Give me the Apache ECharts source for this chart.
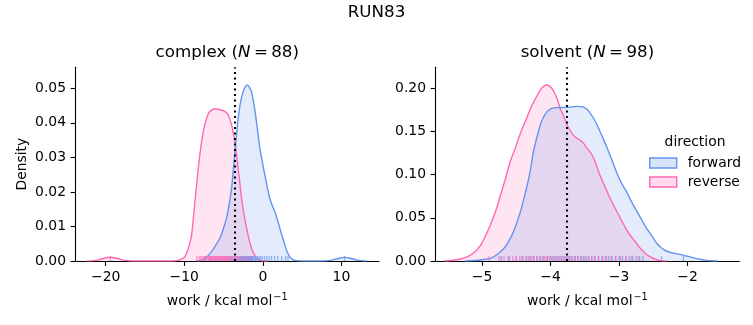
<!DOCTYPE html>
<html><head><meta charset="utf-8">
<script src="https://cdn.jsdelivr.net/npm/echarts@6/dist/echarts.min.js"></script>
<style>html,body{margin:0;padding:0;background:#fff}#c{width:753px;height:325px}</style>
</head><body><div id="c"></div>
<script>
// ---------- data ----------
const complexReverseX = [-22.4,-21.5,-20.8,-20.2,-19.4,-18.6,-18.0,-17.3,-16.5,-14,-12,-11.2,-10.77,-10.3,-9.91,-9.5,-9.07,-8.64,-8.22,-7.80,-7.48,-7.16,-6.84,-6.52,-6.2,-5.89,-5.45,-5.04,-4.7,-4.41,-4.2,-3.98,-3.77,-3.56,-3.35,-3.14,-2.92,-2.71,-2.4,-2.07,-1.75,-1.44,-1.1,-0.80,-0.4,0.0,0.6];
const complexReverseY = [0,0.0001,0.0004,0.0008,0.00107,0.0008,0.0004,0.0001,0,0,0,0.00005,0.0002,0.0006,0.0013,0.0035,0.0075,0.0172,0.0268,0.0345,0.0385,0.0413,0.0430,0.0437,0.0440,0.0440,0.0438,0.0435,0.0431,0.0423,0.0410,0.0394,0.0372,0.0345,0.0310,0.0268,0.0224,0.0181,0.0135,0.0095,0.0062,0.0037,0.0019,0.0008,0.0002,0.00005,0];
const complexForwardX = [-8.5,-7.8,-7.2,-6.52,-6.0,-5.47,-5.05,-4.62,-4.3,-3.98,-3.77,-3.56,-3.35,-3.14,-2.9,-2.63,-2.3,-1.99,-1.7,-1.44,-1.2,-0.93,-0.65,-0.38,-0.05,0.25,0.57,0.89,1.21,1.53,1.85,2.16,2.48,2.80,3.1,3.43,3.8,4.28,5.0,7.5,8.3,9.0,9.7,10.4,11.1,11.8,12.5,13.2];
const complexForwardY = [0,0.0002,0.0010,0.0027,0.0045,0.0066,0.0092,0.0124,0.0163,0.0210,0.0262,0.0317,0.0367,0.0413,0.0452,0.0481,0.0502,0.0510,0.0503,0.0490,0.0462,0.0423,0.0375,0.0326,0.0285,0.0249,0.0213,0.0181,0.0160,0.0143,0.0119,0.0095,0.0070,0.0046,0.0026,0.0012,0.0004,0.0001,0,0,0.0001,0.0004,0.0008,0.00105,0.0008,0.0004,0.0001,0];

const solventReverseX = [-5.55,-5.46,-5.33,-5.21,-5.1,-5.02,-4.95,-4.88,-4.8,-4.73,-4.66,-4.59,-4.51,-4.44,-4.36,-4.29,-4.22,-4.15,-4.1,-4.05,-4.0,-3.95,-3.9,-3.86,-3.81,-3.77,-3.72,-3.67,-3.62,-3.57,-3.52,-3.48,-3.42,-3.37,-3.28,-3.2,-3.13,-3.05,-2.98,-2.91,-2.84,-2.76,-2.69,-2.62,-2.55,-2.47,-2.40,-2.3];
const solventReverseY = [0,0.0005,0.002,0.005,0.011,0.0185,0.029,0.0417,0.058,0.0764,0.095,0.115,0.132,0.148,0.163,0.177,0.188,0.198,0.2025,0.2038,0.2015,0.196,0.187,0.177,0.168,0.1595,0.152,0.146,0.1425,0.140,0.1365,0.132,0.126,0.119,0.0996,0.085,0.0726,0.060,0.0494,0.039,0.0301,0.022,0.0147,0.009,0.005,0.002,0.0005,0];
const solventForwardX = [-5.25,-5.12,-5.0,-4.88,-4.78,-4.68,-4.61,-4.54,-4.49,-4.44,-4.39,-4.34,-4.29,-4.25,-4.2,-4.15,-4.1,-4.05,-3.99,-3.93,-3.85,-3.77,-3.69,-3.61,-3.56,-3.51,-3.46,-3.42,-3.37,-3.32,-3.25,-3.18,-3.11,-3.04,-2.97,-2.89,-2.82,-2.75,-2.67,-2.60,-2.52,-2.45,-2.38,-2.31,-2.21,-2.11,-2.04,-1.97,-1.9,-1.82,-1.75,-1.67,-1.55];
const solventForwardY = [0,0.0005,0.0015,0.003,0.0075,0.0147,0.023,0.034,0.045,0.057,0.072,0.088,0.107,0.1266,0.143,0.1575,0.167,0.173,0.1765,0.1776,0.1778,0.1776,0.1785,0.179,0.1788,0.178,0.175,0.171,0.165,0.1575,0.145,0.132,0.118,0.1034,0.091,0.080,0.069,0.059,0.048,0.038,0.029,0.0205,0.015,0.0116,0.0092,0.0077,0.0063,0.005,0.0033,0.002,0.001,0.0003,0];

// rug samples (estimated positions)
const complexForwardRug = [-7.4,-6.6,-6.0,-5.5,-5.1,-4.8,-4.5,-4.2,-4.0,-3.8,-3.6,-3.4,-3.2,-3.1,-2.9,-2.8,-2.7,-2.6,-2.5,-2.4,-2.3,-2.2,-2.1,-2.0,-1.9,-1.8,-1.7,-1.6,-1.5,-1.4,-1.3,-1.2,-1.0,-0.9,-0.7,-0.5,-0.3,-0.1,0.2,0.5,0.8,1.1,1.5,1.9,2.4,2.9,3.2,10.4];
const complexReverseRug = [-19.4,-8.4,-8.1,-7.9,-7.7,-7.5,-7.3,-7.2,-7.0,-6.9,-6.8,-6.7,-6.6,-6.5,-6.4,-6.3,-6.2,-6.1,-6.0,-5.9,-5.8,-5.7,-5.6,-5.5,-5.4,-5.3,-5.2,-5.1,-5.0,-4.9,-4.8,-4.7,-4.6,-4.5,-4.4,-4.3,-4.2,-4.0,-3.8,-3.6,-3.4,-3.2,-3.0,-2.7,-2.4,-2.0,-1.6];
const solventForwardRug = [-4.72,-4.6,-4.5,-4.42,-4.35,-4.3,-4.25,-4.2,-4.15,-4.1,-4.05,-4.0,-3.96,-3.92,-3.88,-3.84,-3.8,-3.76,-3.72,-3.68,-3.64,-3.6,-3.56,-3.52,-3.48,-3.44,-3.4,-3.36,-3.3,-3.25,-3.2,-3.15,-3.1,-3.05,-3.0,-2.95,-2.9,-2.85,-2.8,-2.75,-2.7,-2.65,-2.38,-2.06];
const solventReverseRug = [-4.9,-4.75,-4.68,-4.62,-4.55,-4.5,-4.45,-4.4,-4.36,-4.32,-4.28,-4.24,-4.2,-4.16,-4.12,-4.08,-4.05,-4.02,-3.98,-3.94,-3.9,-3.86,-3.82,-3.78,-3.74,-3.7,-3.65,-3.6,-3.55,-3.5,-3.45,-3.4,-3.35,-3.3,-3.24,-3.18,-3.12,-3.05,-2.98,-2.9,-2.82,-2.72];

const complexMean = -3.56;
const solventMean = -3.77;

const complexXTicks = [-20,-10,0,10];
const complexYTicks = [0,0.01,0.02,0.03,0.04,0.05];
const solventXTicks = [-5,-4,-3,-2];
const solventYTicks = [0,0.05,0.10,0.15,0.20];

// ---------- styling ----------
const FONT = 'DejaVu Sans';
const BLUE = '#6495ED', PINK = '#FF69B4';
const BLUE_F = 'rgba(100,149,237,0.25)', PINK_F = 'rgba(255,105,180,0.25)';
const TICK = 13.9;

const zip = (xs, ys) => xs.map((x, i) => [x, ys[i]]);
const rug = vs => vs.map(v => [v, 0]);
const fmtX = v => (v < 0 ? '\u2212' + Math.abs(v) : String(v));
const fmtY = v => v.toFixed(2);

function xAxis(grid, min, max, ticks) {
  return {
    type: 'value', gridIndex: grid, min, max,
    name: '{a|work / kcal mol}{s|\u22121}', nameLocation: 'middle', nameGap: 31,
    nameTextStyle: { rich: { a: { fontSize: TICK, fontFamily: FONT, color: '#000', lineHeight: 18 },
                             s: { fontSize: 9.7, fontFamily: FONT, color: '#000', verticalAlign: 'top', lineHeight: 18, padding:[0,0,0,1] } } },
    axisLine: { show: true, onZero: false, lineStyle: { color: '#000', width: 1.1 } },
    axisTick: { show: true, length: 4.9, lineStyle: { color: '#000', width: 1.1 }, customValues: ticks },
    axisLabel: { show: true, margin: 9.5, fontSize: TICK, fontFamily: FONT, color: '#000', formatter: fmtX, customValues: ticks },
    splitLine: { show: false }
  };
}
function yAxis(grid, max, ticks, name) {
  return {
    type: 'value', gridIndex: grid, min: 0, max,
    name: name, nameLocation: 'middle', nameGap: 46,
    nameTextStyle: { fontSize: TICK, fontFamily: FONT, color: '#000' },
    axisLine: { show: true, onZero: false, lineStyle: { color: '#000', width: 1.1 } },
    axisTick: { show: true, length: 4.9, lineStyle: { color: '#000', width: 1.1 }, customValues: ticks },
    axisLabel: { show: true, margin: 9.5, fontSize: TICK, fontFamily: FONT, color: '#000', formatter: fmtY, customValues: ticks },
    splitLine: { show: false }
  };
}
function kde(name, grid, data, line, fill, mean) {
  const s = {
    type: 'line', name, xAxisIndex: grid, yAxisIndex: grid, data,
    symbol: 'none', showSymbol: false, smooth: 0.2, clip: true,
    lineStyle: { color: line, width: 1.4 }, itemStyle: { color: line },
    areaStyle: { color: fill, origin: 'start' }, silent: true
  };
  if (mean !== undefined) {
    s.markLine = { silent: true, symbol: ['none', 'none'], label: { show: false },
      lineStyle: { color: '#000', type: [2.1, 3.4], width: 2.1 }, data: [{ xAxis: mean }] };
  }
  return s;
}
function rugSeries(name, grid, vals, color) {
  return { type: 'scatter', name, xAxisIndex: grid, yAxisIndex: grid, data: rug(vals),
    symbol: 'rect', symbolSize: [1.4, 5], symbolOffset: [0, '-50%'], silent: true,
    itemStyle: { color, opacity: 0.65 }, z: 3 };
}

const titleRich = { a: { fontSize: 16.7, fontFamily: FONT, color: '#000' },
                    i: { fontSize: 16.7, fontFamily: FONT, fontStyle: 'italic', color: '#000' } };

const chart = echarts.init(document.getElementById('c'), null, { renderer: 'canvas' });
chart.setOption({
  animation: false,
  backgroundColor: '#fff',
  grid: [
    { left: 75.5, top: 67.3, width: 303.5, height: 193.7, outerBoundsMode: 'none' },
    { left: 435.5, top: 67.3, width: 303.8, height: 193.7, outerBoundsMode: 'none' }
  ],
  xAxis: [ xAxis(0, -23.84, 14.78, complexXTicks), xAxis(1, -5.68, -1.244, solventXTicks) ],
  yAxis: [ yAxis(0, 0.05608, complexYTicks, 'Density'), yAxis(1, 0.2243, solventYTicks, '') ],
  legend: {
    orient: 'vertical', left: 649, top: 156, padding: 0,
    itemWidth: 27, itemHeight: 10, itemGap: 5, icon: 'rect', selectedMode: false,
    textStyle: { fontSize: TICK, fontFamily: FONT, color: '#000', padding: [0, 0, 0, 6] },
    data: [
      { name: 'forward', itemStyle: { color: BLUE_F, borderColor: BLUE, borderWidth: 1.4 } },
      { name: 'reverse', itemStyle: { color: PINK_F, borderColor: PINK, borderWidth: 1.4 } }
    ]
  },
  graphic: [
    { type: 'text', x: 376.5, y: 13, style: { text: 'RUN83', fontSize: 16.7, fontFamily: FONT, fill: '#000', align: 'center', verticalAlign: 'middle' } },
    { type: 'text', x: 227.25, y: 53, style: { text: '{a|complex (}{i|N}{a|\u2009=\u200988)}', rich: titleRich, align: 'center', verticalAlign: 'middle' } },
    { type: 'text', x: 587.4, y: 53, style: { text: '{a|solvent (}{i|N}{a|\u2009=\u200998)}', rich: titleRich, align: 'center', verticalAlign: 'middle' } },
    { type: 'text', x: 695, y: 142, style: { text: 'direction', fontSize: TICK, fontFamily: FONT, fill: '#000', align: 'center', verticalAlign: 'middle' } }
  ],
  series: [
    kde('reverse', 0, zip(complexReverseX, complexReverseY), PINK, PINK_F),
    kde('forward', 0, zip(complexForwardX, complexForwardY), BLUE, BLUE_F, complexMean),
    kde('reverse', 1, zip(solventReverseX, solventReverseY), PINK, PINK_F),
    kde('forward', 1, zip(solventForwardX, solventForwardY), BLUE, BLUE_F, solventMean),
    rugSeries('forward rug', 0, complexForwardRug, BLUE),
    rugSeries('reverse rug', 0, complexReverseRug, PINK),
    rugSeries('forward rug', 1, solventForwardRug, BLUE),
    rugSeries('reverse rug', 1, solventReverseRug, PINK)
  ]
});
</script>
</body></html>
